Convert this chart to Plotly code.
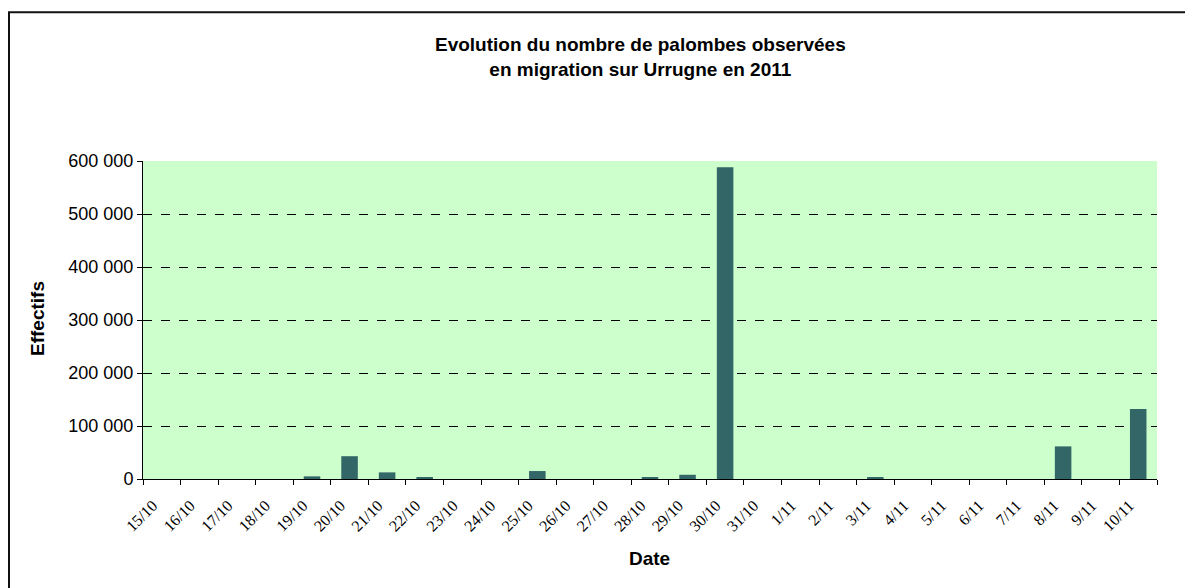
import plotly.graph_objects as go

dates = ["15/10", "16/10", "17/10", "18/10", "19/10", "20/10", "21/10", "22/10",
         "23/10", "24/10", "25/10", "26/10", "27/10", "28/10", "29/10", "30/10",
         "31/10", "1/11", "2/11", "3/11", "4/11", "5/11", "6/11", "7/11",
         "8/11", "9/11", "10/11"]
effectifs = [0, 0, 0, 0, 5000, 43000, 12500, 2500,
             0, 0, 15000, 0, 0, 2000, 8000, 588000,
             0, 0, 0, 2000, 0, 0, 0, 0,
             61500, 0, 132000]
y_ticks = [0, 100000, 200000, 300000, 400000, 500000, 600000]

# page has an 8px body margin: figure origin sits at page (8, 8)
OFF = 8
W, H = 1193 - OFF, 588 - OFF
L, R, T, B = 143 - OFF, 1193 - 1157, 161 - OFF, 588 - 479
pw, ph = W - L - R, H - T - B

def px(page_x):
    return (page_x - OFF - L) / pw

def py(page_y):
    return (H - B - (page_y - OFF)) / ph

fig = go.Figure()
fig.add_trace(go.Bar(
    x=dates, y=effectifs,
    marker=dict(color="#336666", line=dict(width=0)),
    hoverinfo="x+y",
))

fig.update_layout(
    width=W, height=H,
    margin=dict(l=L, r=R, t=T, b=B, autoexpand=False),
    paper_bgcolor="white",
    plot_bgcolor="#CCFFCC",
    bargap=0.56,
    showlegend=False,
    separators=", ",
    font=dict(family="Liberation Sans, Arial, sans-serif", color="black"),
    annotations=[
        dict(text="<b>Evolution du nombre de palombes observées</b><br><b>en migration sur Urrugne en 2011</b>",
             x=px(640), y=py(57), xref="paper", yref="paper",
             xanchor="center", yanchor="middle", showarrow=False,
             font=dict(size=19, family="Liberation Sans, Arial, sans-serif"),
             align="center"),
        dict(text="<b>Effectifs</b>", textangle=-90,
             x=px(37), y=py(319), xref="paper", yref="paper",
             xanchor="center", yanchor="middle", showarrow=False,
             font=dict(size=19, family="Liberation Sans, Arial, sans-serif")),
        dict(text="<b>Date</b>",
             x=px(649), y=py(558), xref="paper", yref="paper",
             xanchor="center", yanchor="middle", showarrow=False,
             font=dict(size=19, family="Liberation Sans, Arial, sans-serif")),
    ],
    shapes=[
        dict(type="rect", xref="paper", yref="paper",
             x0=px(9), x1=px(1210), y0=py(12.3), y1=py(610),
             line=dict(color="#111111", width=2), fillcolor="rgba(0,0,0,0)",
             layer="above"),
    ],
)

fig.update_xaxes(
    type="category",
    tickangle=-45,
    ticks="outside", ticklen=5, tickcolor="black", tickwidth=1,
    tickson="boundaries",
    ticklabelstandoff=10,
    ticklabelshift=-9,
    showline=True, linecolor="black", linewidth=1,
    showgrid=False,
    tickfont=dict(family="Liberation Serif, Times New Roman, serif", size=16, color="black"),
)
fig.update_yaxes(
    range=[0, 600000],
    tickvals=y_ticks,
    tickformat=",d",
    ticks="outside", ticklen=5, tickcolor="black", tickwidth=1,
    showline=True, linecolor="black", linewidth=1,
    showgrid=True, gridcolor="black", gridwidth=1, griddash="dash",
    zeroline=False,
    tickfont=dict(family="Liberation Sans, Arial, sans-serif", size=18, color="black"),
)

fig.write_html("out.html")
